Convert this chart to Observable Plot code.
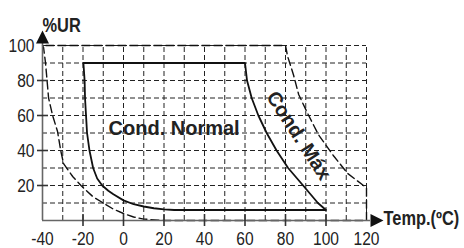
<!DOCTYPE html>
<html><head><meta charset="utf-8">
<script src="https://cdn.jsdelivr.net/npm/d3@7"></script>
<script src="https://cdn.jsdelivr.net/npm/@observablehq/plot@0.6"></script>
<style>body{margin:0;background:#fff;} #chart svg{display:block;}</style>
</head><body><div id="chart"></div>
<script>
// Axis ticks and grid
const xTicks = [-40, -20, 0, 20, 40, 60, 80, 100, 120];
const yTicks = [20, 40, 60, 80, 100];
const xTickMarks = [-20, 0, 20, 40, 60, 80, 100];
const yTickMarks = [20, 40, 60, 80];
const xGrid = [-30, -20, -10, 0, 10, 20, 30, 40, 50, 60, 70, 80, 90, 100, 110, 120];
const yGrid = [10, 20, 30, 40, 50, 60, 70, 80, 90, 100];

// "Cond. Normal" envelope (solid)
const normalTemp = [-19.8, -19.2, -19, -18.5, -18, -16.8, -15, -13, -10.5, -7.5, -5, 0, 5, 10, 15, 20, 25, 100, 96, 88.7, 81.3, 75.6, 70.7, 66.6, 63.3, 61, 60, -19.8];
const normalRH   = [90, 80, 70, 60, 50, 40, 30, 24, 20, 17, 15, 11.5, 9.3, 8, 7, 6.3, 6, 6, 10, 20, 30, 40, 50, 60, 70, 80, 90, 90];

// "Cond. Máx" envelope (dashed)
const maxTemp = [-40, -39.5, -38.5, -37, -35, -32.6, -31, -29.6, -25, -21, -15, -10, -5, 0, 5, 10, 20, 120, 120, 118.5, 110.6, 103.7, 96.3, 91, 86.5, 84, 81, 80, -40];
const maxRH   = [100, 99, 90, 70, 60, 51, 40, 32.5, 25, 20, 13.5, 10, 6.5, 4, 2, 0.8, 0, 0, 19, 20, 27, 37, 49, 61, 72, 83, 94, 100, 100];

// Labels
const axisLabelY = "%UR";
const axisLabelX = "Temp.(ºC)";
const regionLabels = ["Cond. Normal", "Cond. Máx"];
const regionLabelX = [25, 86.5];
const regionLabelY = [52.6, 48.5];
const regionLabelRotate = [0, 57];

const normal = normalTemp.map((t, i) => ({t, rh: normalRH[i]}));
const maxEnv = maxTemp.map((t, i) => ({t, rh: maxRH[i]}));
const regions = regionLabels.map((text, i) => ({text, x: regionLabelX[i], y: regionLabelY[i], rotate: regionLabelRotate[i]}));

const arrowUp = {draw(ctx) { ctx.moveTo(0, -8); ctx.lineTo(6.5, 5); ctx.lineTo(-6.5, 5); ctx.closePath(); }};
const arrowRight = {draw(ctx) { ctx.moveTo(8, 0); ctx.lineTo(-5, 6.5); ctx.lineTo(-5, -6.5); ctx.closePath(); }};

const font = "'Liberation Sans', Arial, sans-serif";

const chart = Plot.plot({
  width: 464, height: 248,
  marginLeft: 42, marginRight: 98, marginTop: 45, marginBottom: 28,
  x: {domain: [-40, 120], ticks: xTicks, tickSize: 0, tickPadding: 11, label: null, tickFormat: d => String(d)},
  y: {domain: [0, 100], ticks: yTicks, tickSize: 0, tickPadding: 8, label: null, tickFormat: d => String(d)},
  style: {fontFamily: font, fontSize: "19px", color: "#222", background: "#fff", overflow: "visible"},
  marks: [
    Plot.ruleX(xGrid, {x: d => d, y1: 0, y2: 100, stroke: "#222", strokeWidth: 1, strokeDasharray: "5,3"}),
    Plot.ruleY(yGrid, {y: d => d, x1: -40, x2: 120, stroke: "#222", strokeWidth: 1, strokeDasharray: "5,3"}),
    Plot.line(maxEnv, {x: "t", y: "rh", stroke: "#111", strokeWidth: 1.4, strokeDasharray: "8,4", curve: "linear"}),
    Plot.line(normal, {x: "t", y: "rh", stroke: "#111", strokeWidth: 1.8, curve: "linear"}),
    Plot.ruleY([0], {x1: -40, x2: 120, insetRight: -4, stroke: "#666", strokeWidth: 1.6}),
    Plot.ruleX([-40], {y1: 100, y2: 0, insetTop: -3, stroke: "#666", strokeWidth: 1.6}),
    Plot.ruleX(xTickMarks, {x: d => d, y1: 0, y2: 0, insetTop: -6, insetBottom: -6, stroke: "#333", strokeWidth: 1.6}),
    Plot.ruleY(yTickMarks, {y: d => d, x1: -40, x2: -40, insetLeft: -5, insetRight: -6, stroke: "#333", strokeWidth: 1.6}),
    Plot.dot([axisLabelY], {frameAnchor: "top-left", dy: -7, symbol: arrowUp, fill: "#111", stroke: "none"}),
    Plot.dot([axisLabelX], {frameAnchor: "bottom-right", dx: 9, symbol: arrowRight, fill: "#111", stroke: "none"}),
    Plot.text([axisLabelY], {frameAnchor: "top-left", text: d => d, dx: 0, dy: -28, fontWeight: "bold", fontSize: 20, fill: "#222"}),
    Plot.text([axisLabelX], {frameAnchor: "bottom-right", text: d => d, textAnchor: "start", dx: 17, dy: 4, fontWeight: "bold", fontSize: 20, fill: "#222"}),
    Plot.text(regions, {x: "x", y: "y", text: "text", rotate: "rotate", fontWeight: "bold", fontSize: 20, fill: "#222"})
  ]
});
document.getElementById("chart").appendChild(chart);
// Narrow (condensed) look for axis texts, like the original's Arial Narrow:
// scale horizontally about each text's own anchor point.
chart.querySelectorAll("text").forEach(t => {
  if (t.textContent.startsWith("Cond")) return;
  const ax = parseFloat(t.getAttribute("x") || "0") || 0;
  const prev = t.getAttribute("transform") || "";
  t.setAttribute("transform", `${prev} translate(${ax},0) scale(0.82,1) translate(${-ax},0)`.trim());
});
</script>
</body></html>
